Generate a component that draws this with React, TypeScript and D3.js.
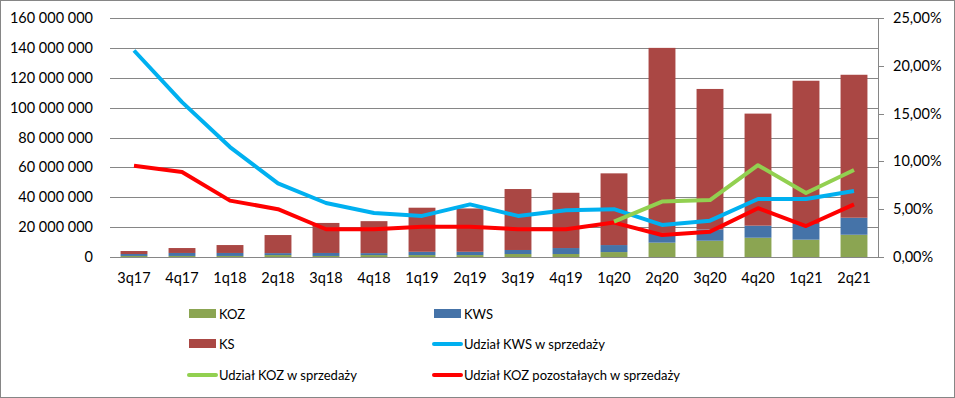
import * as d3 from "d3";

const categories = ["3q17", "4q17", "1q18", "2q18", "3q18", "4q18", "1q19", "2q19", "3q19", "4q19", "1q20", "2q20", "3q20", "4q20", "1q21", "2q21"];

// values in PLN
const koz = [0.7, 0.7, 0.7, 1.3, 0.7, 1.3, 1.3, 1.3, 2, 2, 3.3, 9.6, 10.9, 12.9, 11.6, 14.9].map((v) => v * 1e6);
const kws = [1.3, 2, 2, 1.3, 2, 1.3, 2.2, 2.2, 2.7, 4, 4.7, 6.5, 7.5, 8.1, 10.5, 11.4].map((v) => v * 1e6);
const ks = [2.0, 3.3, 5.3, 12.1, 20.1, 21.4, 29.5, 29, 40.8, 37, 48, 123.9, 94.1, 75, 95.9, 95.7].map((v) => v * 1e6);

// shares in %
const kwsShare = [21.6, 16.2, 11.5, 7.7, 5.65, 4.6, 4.3, 5.5, 4.3, 4.9, 5.0, 3.35, 3.8, 6.07, 6.07, 6.9];
const kozShare = [null, null, null, null, null, null, null, null, null, null, 3.7, 5.8, 5.96, 9.6, 6.7, 9.1];
const kozOtherShare = [9.55, 8.9, 5.9, 5.0, 2.9, 2.9, 3.17, 3.17, 2.9, 2.9, 3.6, 2.3, 2.65, 5.1, 3.24, 5.5];

const leftTicks = [0, 20e6, 40e6, 60e6, 80e6, 100e6, 120e6, 140e6, 160e6];
const rightTicks = [0, 5, 10, 15, 20, 25];

const colors = {
  koz: "#8BA552",
  kws: "#4573A8",
  ks: "#AA4744",
  kwsLine: "#00B0F0",
  kozLine: "#92D050",
  kozOtherLine: "#FF0000",
  grid: "#868686",
};

const W = 955;
const H = 398;
const left = 110;
const right = 878;
const top = 18;
const bottom = 257;
const font = "Lato, 'Open Sans', sans-serif";

export default function App() {
  const x = d3.scaleBand().domain(categories).range([left, right]).paddingInner(0.44).paddingOuter(0.22);
  const y = d3.scaleLinear().domain([0, 160e6]).range([bottom, top]);
  const y2 = d3.scaleLinear().domain([0, 25]).range([bottom, top]);
  const cx = (c: string) => (x(c) ?? 0) + x.bandwidth() / 2;

  const stackData = categories.map((c, i) => ({ cat: c, koz: koz[i], kws: kws[i], ks: ks[i] }));
  const series = d3.stack<any>().keys(["koz", "kws", "ks"])(stackData);

  const fmtLeft = (v: number) => d3.format(",")(v).replace(/,/g, " ");
  const fmtRight = (v: number) => v.toFixed(2).replace(".", ",") + "%";

  const line = d3
    .line<number | null>()
    .defined((d) => d != null)
    .x((_, i) => cx(categories[i]))
    .y((d) => y2(d as number));

  const lines = [
    { key: "kozOtherLine", data: kozOtherShare },
    { key: "kwsLine", data: kwsShare },
    { key: "kozLine", data: kozShare },
  ];

  const legend = [
    { label: "KOZ", type: "rect", color: colors.koz, x: 189, y: 314 },
    { label: "KWS", type: "rect", color: colors.kws, x: 434, y: 314 },
    { label: "KS", type: "rect", color: colors.ks, x: 189, y: 344 },
    { label: "Udział KWS w sprzedaży", type: "line", color: colors.kwsLine, x: 434, y: 344 },
    { label: "Udział KOZ w sprzedaży", type: "line", color: colors.kozLine, x: 189, y: 375 },
    { label: "Udział KOZ pozostałaych w sprzedaży", type: "line", color: colors.kozOtherLine, x: 434, y: 375 },
  ];

  return (
    <svg width={W} height={H} style={{ position: "absolute", left: 0, top: 0, fontFamily: font }}>
      <rect x={0.5} y={0.5} width={W - 1} height={H - 1} fill="white" stroke={colors.grid} />

      {/* grid */}
      {leftTicks.map((t) => (
        <line key={t} x1={left} x2={right} y1={Math.round(y(t)) + 0.5} y2={Math.round(y(t)) + 0.5} stroke={colors.grid} strokeWidth={1} />
      ))}

      {/* bars */}
      {series.map((s) =>
        s.map((d, i) => (
          <rect
            key={s.key + i}
            x={x(categories[i])}
            y={y(d[1])}
            width={x.bandwidth()}
            height={y(d[0]) - y(d[1])}
            fill={(colors as any)[s.key]}
          />
        ))
      )}

      {/* lines */}
      {lines.map((l) => (
        <path key={l.key} d={line(l.data) ?? ""} fill="none" stroke={(colors as any)[l.key]} strokeWidth={4} strokeLinejoin="round" />
      ))}

      {/* left axis labels */}
      {leftTicks.map((t) => (
        <text key={t} x={93} y={y(t)} dy="0.35em" textAnchor="end" fontSize={14.5} fill="#000">
          {fmtLeft(t)}
        </text>
      ))}

      {/* right axis */}
      <line x1={right + 0.5} x2={right + 0.5} y1={top} y2={bottom} stroke={colors.grid} />
      {rightTicks.map((t) => (
        <g key={t}>
          <line x1={right} x2={right + 6} y1={Math.round(y2(t)) + 0.5} y2={Math.round(y2(t)) + 0.5} stroke={colors.grid} />
          <text x={893} y={y2(t)} dy="0.35em" fontSize={14.5} fill="#000">
            {fmtRight(t)}
          </text>
        </g>
      ))}

      {/* x labels */}
      {categories.map((c) => (
        <text key={c} x={cx(c)} y={283} textAnchor="middle" fontSize={14.5} fill="#000">
          {c}
        </text>
      ))}

      {/* legend */}
      {legend.map((l) => (
        <g key={l.label}>
          {l.type === "rect" ? (
            <rect x={l.x} y={l.y - 5} width={27} height={9} fill={l.color} />
          ) : (
            <line x1={l.x} x2={l.x + 27} y1={l.y} y2={l.y} stroke={l.color} strokeWidth={4} strokeLinecap="round" />
          )}
          <text x={l.x + 30} y={l.y} dy="0.35em" fontSize={13} fill="#000">
            {l.label}
          </text>
        </g>
      ))}
    </svg>
  );
}
